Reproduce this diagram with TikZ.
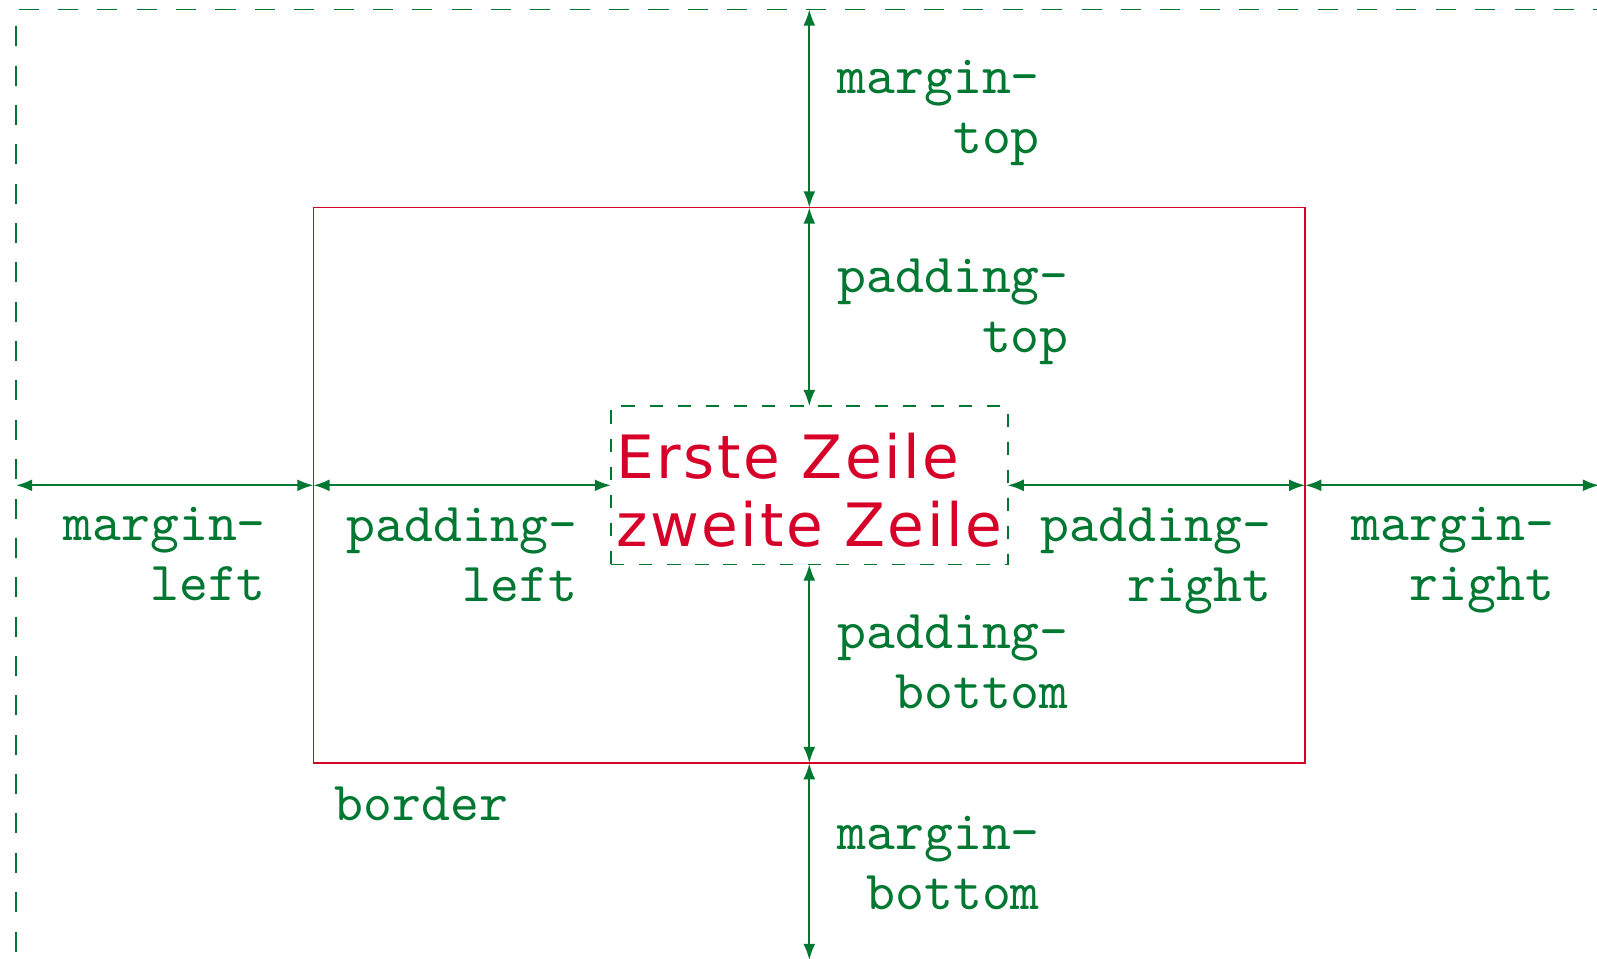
\documentclass[tikz,border=0pt]{standalone}
\usepackage{fontspec}
\newfontfamily\boxfont[LetterSpace=4.3]{DejaVu Sans}
\newfontfamily\lblfont{lmmono10-regular.otf}
\usetikzlibrary{arrows.meta}
\definecolor{boxgreen}{RGB}{0,120,50}
\definecolor{boxred}{RGB}{215,0,40}
\tikzset{
  lbl/.style={text=boxgreen, font=\lblfont\fontsize{15.65}{17}\selectfont, align=right, inner sep=0pt},
  dim/.style={boxgreen, line width=0.55pt, {Latex[length=4.6pt,width=3.4pt]}-{Latex[length=4.6pt,width=3.4pt]}},
  marginline/.style={draw=boxgreen, line width=0.5pt, dash pattern=on 5.7pt off 5.5pt},
  paddingline/.style={draw=boxgreen, line width=0.5pt, dash pattern=on 3.8pt off 4.2pt},
}
\begin{document}
\begin{tikzpicture}
\useasboundingbox (0,0) rectangle (15.97,-9.59);

% boxes
\node[marginline, minimum width=15.83cm, minimum height=9.505cm, inner sep=0pt, outer sep=0pt] (marginbox) at (8.075,-4.8475) {};
\node[draw=boxred, line width=0.5pt, minimum width=9.917cm, minimum height=5.556cm, inner sep=0pt, outer sep=0pt] (borderbox) at (8.093,-4.853) {};
\node[paddingline, minimum width=3.967cm, minimum height=1.583cm, inner sep=0pt, outer sep=0pt,
      text=boxred, font=\boxfont\fontsize{17}{19.5}\selectfont, align=left] (content) at (8.093,-4.853)
      {\rule{0pt}{15.8pt}Erste Zeile\\zweite Zeile};

% vertical arrows
\draw[dim] (content.north |- marginbox.north) -- (borderbox.north);
\draw[dim] (borderbox.north) -- (content.north);
\draw[dim] (content.south) -- (borderbox.south);
\draw[dim] (borderbox.south) -- (content.south |- marginbox.south);

% horizontal arrows
\draw[dim] (marginbox.west |- content) -- (borderbox.west);
\draw[dim] (borderbox.west) -- (content.west);
\draw[dim] (content.east) -- (borderbox.east);
\draw[dim] (borderbox.east) -- (marginbox.east |- content);

% labels
\node[lbl, anchor=west] (mtop) at (8.37,-1.13) {margin-\\top};
\node[lbl, anchor=west] (ptop) at (8.37,-3.115) {padding-\\top};
\node[lbl, anchor=west] (pbottom) at (8.37,-6.62) {padding-\\bottom};
\node[lbl, anchor=west] (mbottom) at (8.37,-8.63) {margin-\\bottom};

\node[lbl, anchor=north] (mleft) at (1.647,-5.07) {margin-\\left};
\node[lbl, anchor=north] (pleft) at (4.62,-5.07) {padding-\\left};
\node[lbl, anchor=north] (pright) at (11.56,-5.07) {padding-\\right};
\node[lbl, anchor=north] (mright) at (14.53,-5.07) {margin-\\right};

\node[lbl, anchor=base west] (border) at (3.34,-8.2) {border};
\end{tikzpicture}
\end{document}
